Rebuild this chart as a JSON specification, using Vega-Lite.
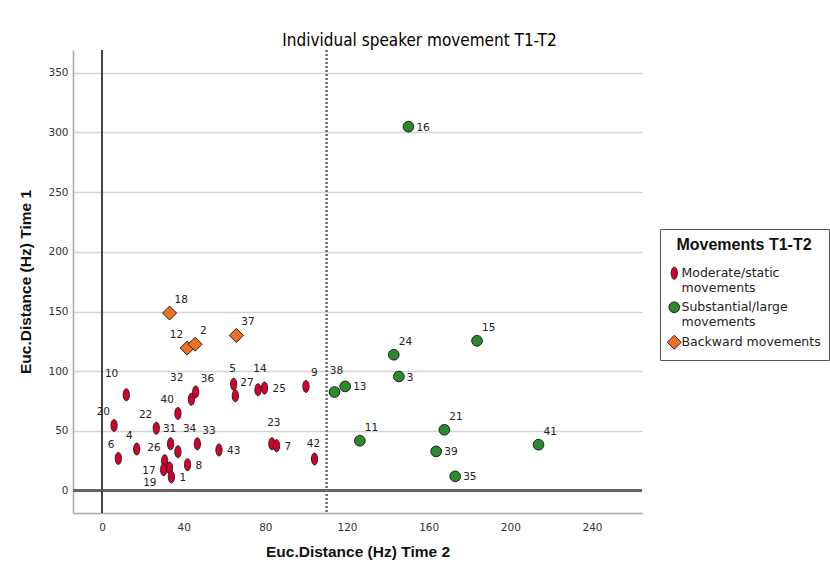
{
  "$schema": "https://vega.github.io/schema/vega-lite/v6.json",
  "width": 569,
  "height": 463,
  "autosize": "none",
  "padding": {"left": 73, "top": 50, "right": 188, "bottom": 66},
  "background": "white",
  "title": {
    "text": "Individual speaker movement T1-T2",
    "font": "Liberation Sans Narrow, DejaVu Sans Condensed, Liberation Sans",
    "fontSize": 17,
    "fontWeight": "normal",
    "color": "#000",
    "anchor": "middle",
    "dx": 62,
    "offset": -1
  },
  "config": {
    "view": {"stroke": null},
    "axis": {
      "labelFont": "DejaVu Sans",
      "labelFontSize": 10.5,
      "labelColor": "#333",
      "titleFont": "Liberation Sans",
      "titleFontSize": 15.5,
      "titleFontWeight": "bold",
      "titleColor": "#111",
      "ticks": false,
      "domainColor": "#a8a8a8",
      "domainWidth": 1.5
    },
    "text": {"font": "DejaVu Sans", "fontSize": 10.5, "color": "#222", "baseline": "middle"}
  },
  "data": {
    "values": [
      {"id": "10", "t2": 11.9, "t1": 80.3, "group": "Moderate/static movements"},
      {"id": "20", "t2": 5.9, "t1": 54.6, "group": "Moderate/static movements"},
      {"id": "6", "t2": 8.0, "t1": 27.0, "group": "Moderate/static movements"},
      {"id": "4", "t2": 17.0, "t1": 34.9, "group": "Moderate/static movements"},
      {"id": "22", "t2": 26.6, "t1": 52.3, "group": "Moderate/static movements"},
      {"id": "26", "t2": 30.7, "t1": 25.1, "group": "Moderate/static movements"},
      {"id": "17", "t2": 30.2, "t1": 17.6, "group": "Moderate/static movements"},
      {"id": "19", "t2": 33.1, "t1": 19.0, "group": "Moderate/static movements"},
      {"id": "1", "t2": 34.0, "t1": 11.5, "group": "Moderate/static movements"},
      {"id": "31", "t2": 33.6, "t1": 39.3, "group": "Moderate/static movements"},
      {"id": "34", "t2": 37.2, "t1": 32.6, "group": "Moderate/static movements"},
      {"id": "33", "t2": 46.7, "t1": 39.2, "group": "Moderate/static movements"},
      {"id": "43", "t2": 57.3, "t1": 34.1, "group": "Moderate/static movements"},
      {"id": "8", "t2": 41.9, "t1": 21.8, "group": "Moderate/static movements"},
      {"id": "40", "t2": 37.2, "t1": 64.7, "group": "Moderate/static movements"},
      {"id": "32", "t2": 43.8, "t1": 76.5, "group": "Moderate/static movements"},
      {"id": "36", "t2": 45.9, "t1": 82.7, "group": "Moderate/static movements"},
      {"id": "5", "t2": 64.5, "t1": 89.1, "group": "Moderate/static movements"},
      {"id": "27", "t2": 65.3, "t1": 79.5, "group": "Moderate/static movements"},
      {"id": "14", "t2": 76.4, "t1": 84.5, "group": "Moderate/static movements"},
      {"id": "25", "t2": 79.6, "t1": 85.9, "group": "Moderate/static movements"},
      {"id": "9", "t2": 99.9, "t1": 87.3, "group": "Moderate/static movements"},
      {"id": "23", "t2": 83.2, "t1": 39.3, "group": "Moderate/static movements"},
      {"id": "7", "t2": 85.5, "t1": 37.7, "group": "Moderate/static movements"},
      {"id": "42", "t2": 104.1, "t1": 26.5, "group": "Moderate/static movements"},
      {"id": "16", "t2": 150.1, "t1": 304.8, "group": "Substantial/large movements"},
      {"id": "15", "t2": 183.7, "t1": 125.5, "group": "Substantial/large movements"},
      {"id": "24", "t2": 142.9, "t1": 113.8, "group": "Substantial/large movements"},
      {"id": "3", "t2": 145.4, "t1": 95.6, "group": "Substantial/large movements"},
      {"id": "38", "t2": 113.9, "t1": 82.6, "group": "Substantial/large movements"},
      {"id": "13", "t2": 119.1, "t1": 87.3, "group": "Substantial/large movements"},
      {"id": "11", "t2": 126.3, "t1": 41.8, "group": "Substantial/large movements"},
      {"id": "21", "t2": 167.7, "t1": 51.0, "group": "Substantial/large movements"},
      {"id": "39", "t2": 163.7, "t1": 32.9, "group": "Substantial/large movements"},
      {"id": "35", "t2": 173.0, "t1": 12.0, "group": "Substantial/large movements"},
      {"id": "41", "t2": 213.8, "t1": 38.5, "group": "Substantial/large movements"},
      {"id": "18", "t2": 33.1, "t1": 148.7, "group": "Backward movements"},
      {"id": "12", "t2": 41.7, "t1": 119.4, "group": "Backward movements"},
      {"id": "2", "t2": 45.6, "t1": 122.6, "group": "Backward movements"},
      {"id": "37", "t2": 65.8, "t1": 130.0, "group": "Backward movements"}
    ]
  },
  "layer": [
    {
      "mark": {"type": "rule", "color": "#666", "strokeWidth": 2},
      "encoding": {"y": {"datum": 0, "type": "quantitative"}}
    },
    {
      "mark": {"type": "rule", "color": "#444", "strokeWidth": 1.2},
      "encoding": {"x": {"datum": 0, "type": "quantitative"}}
    },
    {
      "mark": {"type": "rule", "color": "#777", "strokeWidth": 1.2, "strokeDash": [2, 2]},
      "encoding": {"x": {"datum": 110, "type": "quantitative"}}
    },
    {
      "mark": {"type": "point", "filled": true, "opacity": 1, "size": 100, "stroke": "#222", "strokeWidth": 1},
      "encoding": {
        "x": {
          "field": "t2", "type": "quantitative",
          "scale": {"domain": [-14.2, 264.5], "nice": false, "zero": false},
          "axis": {"title": "Euc.Distance (Hz) Time 2", "values": [0, 40, 80, 120, 160, 200, 240], "grid": false, "labelPadding": 9, "titlePadding": 12}
        },
        "y": {
          "field": "t1", "type": "quantitative",
          "scale": {"domain": [-18.7, 369], "nice": false, "zero": false},
          "axis": {"title": "Euc.Distance (Hz) Time 1", "values": [0, 50, 100, 150, 200, 250, 300, 350], "grid": true, "gridColor": "#d3d3d3", "gridWidth": 1.5, "labelPadding": 5, "titlePadding": 14}
        },
        "color": {
          "field": "group", "type": "nominal",
          "scale": {
            "domain": ["Moderate/static movements", "Substantial/large movements", "Backward movements"],
            "range": ["#d7002a", "#2b8a2b", "#f07025"]
          },
          "legend": {
            "orient": "none", "legendX": 587, "legendY": 179,
            "title": "Movements T1-T2",
            "titleFont": "Liberation Sans", "titleFontSize": 16, "titleFontWeight": "bold", "titleColor": "#111",
            "titleAnchor": "middle", "titlePadding": 14,
            "labelFont": "DejaVu Sans", "labelFontSize": 12.5, "labelColor": "#222",
            "labelExpr": "datum.label == 'Backward movements' ? datum.label : [replace(datum.label, ' movements', ''), 'movements']",
            "strokeColor": "#555", "fillColor": "white", "padding": 8,
            "symbolStrokeColor": "#222", "symbolStrokeWidth": 1, "symbolSize": 100, "symbolOpacity": 1,
            "labelOffset": 1, "rowPadding": 4
          }
        },
        "shape": {
          "field": "group", "type": "nominal",
          "scale": {
            "domain": ["Moderate/static movements", "Substantial/large movements", "Backward movements"],
            "range": [
              "M0,-1.2 A0.62,1.2 0 1,1 0,1.2 A0.62,1.2 0 1,1 0,-1.2 Z",
              "M1.07,0 A1.07,1.07 0 1,1 -1.07,0 A1.07,1.07 0 1,1 1.07,0 Z",
              "M0,-1.4 L1.4,0 L0,1.4 L-1.4,0 Z"
            ]
          },
          "legend": {
            "orient": "none", "legendX": 587, "legendY": 179,
            "title": "Movements T1-T2"
          }
        }
      }
    },
    {
      "transform": [{"filter": {"field": "id", "oneOf": ["18", "2", "36", "37", "27", "9", "24", "11", "21", "41", "15", "33"]}}],
      "mark": {"type": "text", "align": "left", "dx": 5, "dy": -13},
      "encoding": {
        "x": {"field": "t2", "type": "quantitative"},
        "y": {"field": "t1", "type": "quantitative"},
        "text": {"field": "id", "type": "nominal"}
      }
    },
    {
      "transform": [{"filter": {"field": "id", "oneOf": ["34"]}}],
      "mark": {"type": "text", "align": "left", "dx": 5, "dy": -23},
      "encoding": {
        "x": {"field": "t2", "type": "quantitative"},
        "y": {"field": "t1", "type": "quantitative"},
        "text": {"field": "id", "type": "nominal"}
      }
    },
    {
      "transform": [{"filter": {"field": "id", "oneOf": ["25", "7", "13", "3", "39", "35", "16", "43", "8", "1"]}}],
      "mark": {"type": "text", "align": "left", "dx": 8, "dy": 1},
      "encoding": {
        "x": {"field": "t2", "type": "quantitative"},
        "y": {"field": "t1", "type": "quantitative"},
        "text": {"field": "id", "type": "nominal"}
      }
    },
    {
      "transform": [{"filter": {"field": "id", "oneOf": ["31", "5", "42"]}}],
      "mark": {"type": "text", "align": "center", "dx": -1, "dy": -15},
      "encoding": {
        "x": {"field": "t2", "type": "quantitative"},
        "y": {"field": "t1", "type": "quantitative"},
        "text": {"field": "id", "type": "nominal"}
      }
    },
    {
      "transform": [{"filter": {"field": "id", "oneOf": ["14", "23", "38"]}}],
      "mark": {"type": "text", "align": "center", "dx": 2, "dy": -21},
      "encoding": {
        "x": {"field": "t2", "type": "quantitative"},
        "y": {"field": "t1", "type": "quantitative"},
        "text": {"field": "id", "type": "nominal"}
      }
    },
    {
      "transform": [{"filter": {"field": "id", "oneOf": ["12", "20", "4", "6", "22", "40", "26"]}}],
      "mark": {"type": "text", "align": "right", "dx": -4, "dy": -13},
      "encoding": {
        "x": {"field": "t2", "type": "quantitative"},
        "y": {"field": "t1", "type": "quantitative"},
        "text": {"field": "id", "type": "nominal"}
      }
    },
    {
      "transform": [{"filter": {"field": "id", "oneOf": ["10", "32"]}}],
      "mark": {"type": "text", "align": "right", "dx": -8, "dy": -21},
      "encoding": {
        "x": {"field": "t2", "type": "quantitative"},
        "y": {"field": "t1", "type": "quantitative"},
        "text": {"field": "id", "type": "nominal"}
      }
    },
    {
      "transform": [{"filter": {"field": "id", "oneOf": ["17"]}}],
      "mark": {"type": "text", "align": "right", "dx": -8, "dy": 1},
      "encoding": {
        "x": {"field": "t2", "type": "quantitative"},
        "y": {"field": "t1", "type": "quantitative"},
        "text": {"field": "id", "type": "nominal"}
      }
    },
    {
      "transform": [{"filter": {"field": "id", "oneOf": ["19"]}}],
      "mark": {"type": "text", "align": "right", "dx": -13, "dy": 15},
      "encoding": {
        "x": {"field": "t2", "type": "quantitative"},
        "y": {"field": "t1", "type": "quantitative"},
        "text": {"field": "id", "type": "nominal"}
      }
    }
  ]
}
